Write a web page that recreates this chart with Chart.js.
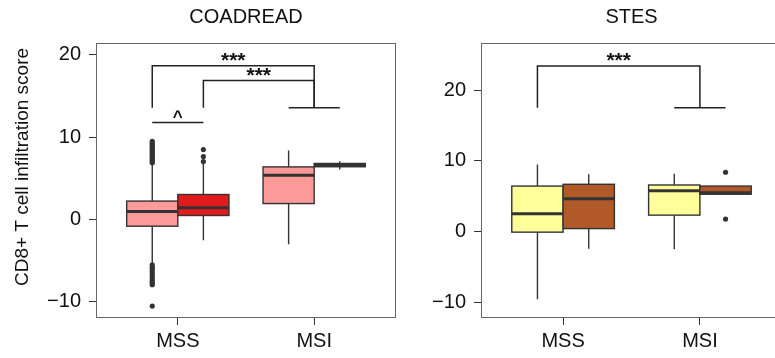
<!DOCTYPE html>
<html><head><meta charset="utf-8">
<script src="https://cdn.jsdelivr.net/npm/chart.js@4"></script>
<style>
html,body{margin:0;padding:0;background:#fff;overflow:hidden;width:775px;height:358px}
#wrap{position:relative;width:775px;height:358px;overflow:hidden;background:#fff}
canvas{position:absolute;top:0}
#c1{left:0}
#c2{left:400px}
</style></head><body>
<div id="wrap"><canvas id="c1" width="400" height="358"></canvas><canvas id="c2" width="390" height="358"></canvas></div>
<script>
const categories = ['MSS', 'MSI'];
const yTicks = [-10, 0, 10, 20];
const panelTitles = ['COADREAD', 'STES'];
const yAxisTitle = 'CD8+ T cell infiltration score';

// COADREAD - light series (per category: MSS, MSI)
const coadA_min = [-5.3, -3.0];
const coadA_q1  = [-0.8, 1.95];
const coadA_med = [1.0, 5.4];
const coadA_q3  = [2.25, 6.4];
const coadA_max = [6.7, 8.4];
const coadA_outMSS = [6.9, 7.1, 7.3, 7.5, 7.7, 7.9, 8.1, 8.3, 8.5, 8.7, 8.9, 9.1, 9.3, 9.5,
                      -5.5, -5.8, -6.0, -6.3, -6.6, -6.9, -7.2, -7.5, -7.7, -7.9, -10.5];
const coadA_outMSI = [];
// COADREAD - dark series
const coadB_min = [-2.5, 6.1];
const coadB_q1  = [0.5, 6.42];
const coadB_med = [1.45, 6.62];
const coadB_q3  = [3.05, 6.82];
const coadB_max = [6.85, 7.1];
const coadB_outMSS = [8.5, 7.65, 7.05];
const coadB_outMSI = [];

// STES - light series
const stesA_min = [-9.5, -2.45];
const stesA_q1  = [-0.05, 2.35];
const stesA_med = [2.55, 5.8];
const stesA_q3  = [6.45, 6.6];
const stesA_max = [9.5, 8.2];
const stesA_outMSS = [];
const stesA_outMSI = [];
// STES - dark series
const stesB_min = [-2.4, 5.3];
const stesB_q1  = [0.45, 5.3];
const stesB_med = [4.65, 5.5];
const stesB_q3  = [6.7, 6.45];
const stesB_max = [8.1, 6.45];
const stesB_outMSS = [];
const stesB_outMSI = [8.4, 1.8];

// significance brackets (x in category units, y in score units)
const coadSigText  = ['***', '***', '^'];
const coadSigLeft  = [0.8125, 1.1875, 0.8125];
const coadSigRight = [2, 2, 1.1875];
const coadSigTop   = [18.7, 16.9, 11.8];
const coadSigBase  = [13.6, 13.6, 11.8];
const coadGroupBar = [1.8125, 2.1875, 13.6];

const stesSigText  = ['***'];
const stesSigLeft  = [0.8125];
const stesSigRight = [2];
const stesSigTop   = [23.4];
const stesSigBase  = [17.5];
const stesGroupBar = [1.8125, 2.1875, 17.5];

const FONT = "'Liberation Sans', Arial, Helvetica, sans-serif";
const DODGE = 0.1875, HALFW = 0.1875;
const colors = { coadA: '#FB9A99', coadB: '#E31A1C', stesA: '#FFFF99', stesB: '#B15928' };

function seriesObj(min, q1, med, q3, max, offset, color) {
  return { min, q1, med, q3, max, offset, color };
}

function outlierDataset(vals, xpos) {
  return { type: 'scatter', data: vals.map(v => ({ x: xpos, y: v })), pointRadius: 2.6,
           pointBackgroundColor: '#333', pointBorderWidth: 0, borderColor: '#333' };
}

function bracketDatasets(L, R, T, B, bar) {
  const ds = [];
  for (let i = 0; i < L.length; i++) {
    ds.push({ type: 'scatter', showLine: true, data: [{x: L[i], y: B[i]}, {x: L[i], y: T[i]}, {x: R[i], y: T[i]}, {x: R[i], y: B[i]}],
      borderColor: '#222', borderWidth: 1.5, pointRadius: 0, fill: false, tension: 0 });
  }
  ds.push({ type: 'scatter', showLine: true, data: [{x: bar[0], y: bar[2]}, {x: bar[1], y: bar[2]}],
    borderColor: '#222', borderWidth: 1.5, pointRadius: 0, fill: false, tension: 0 });
  return ds;
}

function boxPlugin(series, sigText, L, R, T, withYTitle) {
  return {
    id: 'boxes',
    beforeDatasetsDraw(chart) {
      const { ctx, scales: { x, y } } = chart;
      ctx.save();
      series.forEach(s => {
        for (let i = 0; i < categories.length; i++) {
          const cx = i + 1 + s.offset;
          const x0 = x.getPixelForValue(cx - HALFW), x1 = x.getPixelForValue(cx + HALFW), xc = x.getPixelForValue(cx);
          const yt = y.getPixelForValue(s.q3[i]), yb = y.getPixelForValue(s.q1[i]);
          ctx.strokeStyle = '#333'; ctx.lineWidth = 1.4;
          ctx.beginPath();
          ctx.moveTo(xc, yt); ctx.lineTo(xc, y.getPixelForValue(s.max[i]));
          ctx.moveTo(xc, yb); ctx.lineTo(xc, y.getPixelForValue(s.min[i]));
          ctx.stroke();
          ctx.fillStyle = s.color;
          ctx.fillRect(x0, yt, x1 - x0, yb - yt);
          ctx.strokeRect(x0, yt, x1 - x0, yb - yt);
          ctx.lineWidth = 3;
          const ym = y.getPixelForValue(s.med[i]);
          ctx.beginPath(); ctx.moveTo(x0, ym); ctx.lineTo(x1, ym); ctx.stroke();
        }
      });
      ctx.restore();
    },
    afterDraw(chart) {
      const { ctx, chartArea: a, scales: { x, y } } = chart;
      ctx.save();
      ctx.strokeStyle = '#666'; ctx.lineWidth = 1;
      ctx.strokeRect(a.left + 0.5, a.top + 0.5, a.right - a.left - 1, a.bottom - a.top - 1);
      ctx.fillStyle = '#111'; ctx.textAlign = 'center'; ctx.textBaseline = 'alphabetic';
      for (let i = 0; i < sigText.length; i++) {
        const px = (x.getPixelForValue(L[i]) + x.getPixelForValue(R[i])) / 2;
        const caret = sigText[i] === '^';
        ctx.font = (caret ? 'bold 17px ' : 'bold 21px ') + FONT;
        ctx.fillText(sigText[i], px, y.getPixelForValue(T[i]) + (caret ? 0 : 1.5));
      }
      if (withYTitle) {
        ctx.translate(23, 167); ctx.rotate(-Math.PI / 2);
        ctx.font = '19px ' + FONT; ctx.textBaseline = 'middle'; ctx.fillStyle = '#111';
        ctx.fillText(yAxisTitle, 0, 0);
      }
      ctx.restore();
    }
  };
}

function makeChart(canvasId, title, ymin, ymax, yWidth, padRight, series, outs, sig, withYTitle) {
  const datasets = [];
  outs.forEach(o => { if (o.vals.length) datasets.push(outlierDataset(o.vals, o.x)); });
  bracketDatasets(sig.L, sig.R, sig.T, sig.B, sig.bar).forEach(d => datasets.push(d));
  return new Chart(document.getElementById(canvasId), {
    type: 'scatter',
    data: { datasets },
    options: {
      responsive: false, animation: false, events: [],
      layout: { autoPadding: false, padding: { left: 0, right: padRight, top: 0, bottom: 0 } },
      plugins: {
        legend: { display: false }, tooltip: { enabled: false },
        title: { display: true, text: title, color: '#111', fullSize: false,
                 font: { size: 20, family: FONT, weight: 'normal' }, padding: { top: 5, bottom: 14 } }
      },
      scales: {
        x: { type: 'linear', min: 0.4, max: 2.6,
             afterBuildTicks: s => { s.ticks = categories.map((c, i) => ({ value: i + 1 })); },
             afterFit: s => { s.height = 40; },
             ticks: { callback: v => categories[v - 1], font: { size: 20, family: FONT }, color: '#111', padding: 4, maxRotation: 0 },
             grid: { drawOnChartArea: false, drawTicks: true, tickLength: 7, tickColor: '#333', tickWidth: 1 },
             border: { display: false } },
        y: { type: 'linear', min: ymin, max: ymax,
             afterBuildTicks: s => { s.ticks = yTicks.map(v => ({ value: v })); },
             afterFit: s => { s.width = yWidth; },
             ticks: { callback: v => (v < 0 ? '\u2212' + Math.abs(v) : String(v)), font: { size: 20, family: FONT }, color: '#111', padding: 8 },
             grid: { drawOnChartArea: false, drawTicks: true, tickLength: 7, tickColor: '#333', tickWidth: 1 },
             border: { display: false } }
      }
    },
    plugins: [boxPlugin(series, sig.text, sig.L, sig.R, sig.T, withYTitle)]
  });
}

makeChart('c1', panelTitles[0], -11.95, 21.45, 96, 4,
  [seriesObj(coadA_min, coadA_q1, coadA_med, coadA_q3, coadA_max, -DODGE, colors.coadA),
   seriesObj(coadB_min, coadB_q1, coadB_med, coadB_q3, coadB_max, DODGE, colors.coadB)],
  [{ vals: coadA_outMSS, x: 1 - DODGE }, { vals: coadA_outMSI, x: 2 - DODGE },
   { vals: coadB_outMSS, x: 1 + DODGE }, { vals: coadB_outMSI, x: 2 + DODGE }],
  { text: coadSigText, L: coadSigLeft, R: coadSigRight, T: coadSigTop, B: coadSigBase, bar: coadGroupBar }, true);

makeChart('c2', panelTitles[1], -12.16, 26.63, 81, 8,
  [seriesObj(stesA_min, stesA_q1, stesA_med, stesA_q3, stesA_max, -DODGE, colors.stesA),
   seriesObj(stesB_min, stesB_q1, stesB_med, stesB_q3, stesB_max, DODGE, colors.stesB)],
  [{ vals: stesA_outMSS, x: 1 - DODGE }, { vals: stesA_outMSI, x: 2 - DODGE },
   { vals: stesB_outMSS, x: 1 + DODGE }, { vals: stesB_outMSI, x: 2 + DODGE }],
  { text: stesSigText, L: stesSigLeft, R: stesSigRight, T: stesSigTop, B: stesSigBase, bar: stesGroupBar }, false);
</script>
</body></html>
